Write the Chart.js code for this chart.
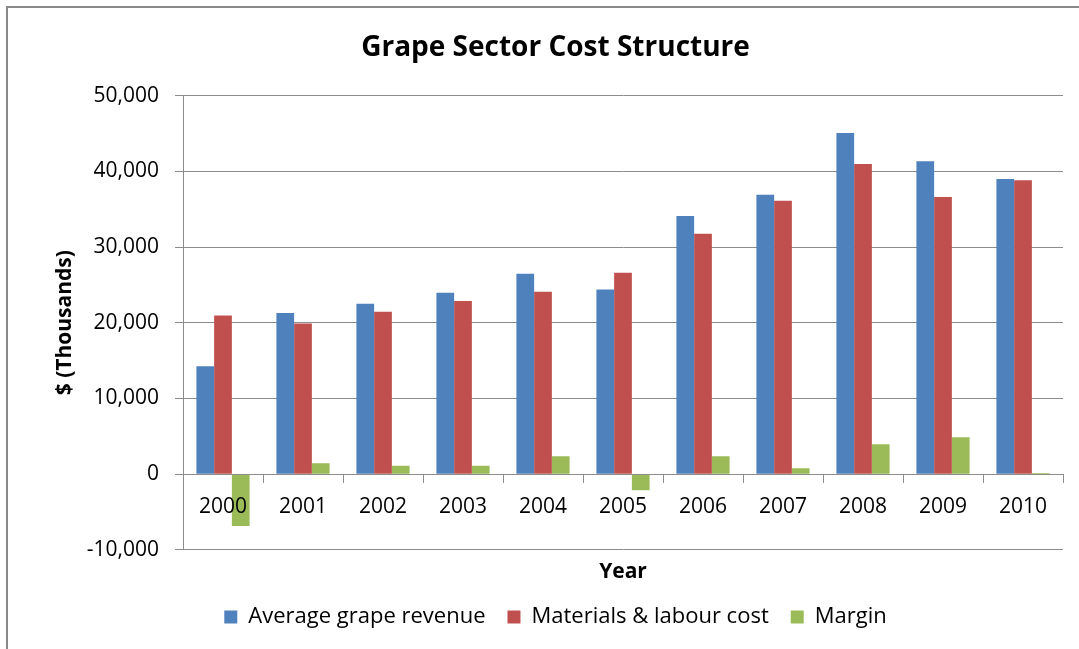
<!DOCTYPE html>
<html>
<head>
<meta charset="utf-8">
<script src="https://cdn.jsdelivr.net/npm/chart.js@4"></script>
<style>
    html, body { margin: 0; padding: 0; background: #fff; }
    #frame {
        position: absolute;
        left: 6px;
        top: 6px;
        width: 1071px;
        height: 641px;
        border-top: 2px solid #8a8a8a;
        border-left: 2px solid #8a8a8a;
    }
</style>
</head>
<body>
<div id="frame"><canvas id="costChart"></canvas></div>
<script>
const years = ['2000', '2001', '2002', '2003', '2004', '2005', '2006', '2007', '2008', '2009', '2010'];
const revenue = [14270, 21280, 22510, 23960, 26480, 24400, 34100, 36920, 45070, 41320, 38990];
const labourCost = [20970, 19910, 21450, 22860, 24100, 26600, 31760, 36120, 40970, 36610, 38810];
const margin = [-6830, 1450, 1100, 1100, 2380, -2110, 2380, 790, 3960, 4890, 150];
const yTicks = { min: -10000, max: 50000, step: 10000 };

const gridGrey = '#8c8c8c';
Chart.defaults.font.family = "'Open Sans', sans-serif";
Chart.defaults.color = '#000';

let costChart = new Chart(document.getElementById('costChart'), {
    type: 'bar',
    data: {
        labels: years,
        datasets: [{
            label: 'Average grape revenue',
            data: revenue,
            backgroundColor: '#4F81BD',
            xAxisID: 'x',
            yAxisID: 'y',
        }, {
            label: 'Materials & labour cost',
            data: labourCost,
            backgroundColor: '#C0504D',
            xAxisID: 'x',
            yAxisID: 'y',
        }, {
            label: 'Margin',
            data: margin,
            backgroundColor: '#9BBB59',
            xAxisID: 'x',
            yAxisID: 'y',
        }],
    },
    options: {
        responsive: true,
        maintainAspectRatio: false,
        animation: false,
        locale: 'en-US',
        layout: {
            padding: { left: 40, right: 16, top: 0, bottom: 11 }
        },
        datasets: {
            bar: {
                categoryPercentage: 0.665,
                barPercentage: 1.0,
                borderWidth: 0,
            }
        },
        plugins: {
            title: {
                display: true,
                text: 'Grape Sector Cost Structure',
                color: '#000',
                font: { size: 28, weight: 'bold' },
                padding: { top: 23, bottom: 31 },
            },
            legend: {
                position: 'bottom',
                labels: {
                    boxWidth: 13,
                    boxHeight: 13,
                    padding: 22,
                    color: '#000',
                    font: { size: 22 },
                }
            },
            tooltip: { enabled: false },
        },
        scales: {
            // category axis sits on the zero line, labels drawn over the bars
            x: {
                type: 'category',
                position: { y: 0 },
                afterFit: (scale) => { scale.height = 0; },
                grid: {
                    drawOnChartArea: false,
                    drawTicks: true,
                    tickLength: 8,
                    color: gridGrey,
                    offset: true,
                },
                border: { color: gridGrey, z: 1 },
                ticks: {
                    z: 1,
                    padding: 12,
                    color: '#000',
                    font: { size: 21 },
                    maxRotation: 0,
                },
            },
            // only carries the "Year" title under the plot
            x2: {
                type: 'category',
                position: 'bottom',
                grid: { display: false, drawTicks: false },
                border: { display: false },
                ticks: { display: false },
                title: {
                    display: true,
                    text: 'Year',
                    color: '#000',
                    font: { size: 21, weight: 'bold', lineHeight: 1.1 },
                    padding: { top: 11, bottom: 0 },
                },
            },
            y: {
                min: yTicks.min,
                max: yTicks.max,
                afterFit: (scale) => { scale.width = 135; },
                ticks: {
                    stepSize: yTicks.step,
                    padding: 16,
                    color: '#000',
                    font: { size: 21 },
                },
                grid: {
                    color: gridGrey,
                    tickLength: 8,
                },
                border: { color: gridGrey },
                title: {
                    display: true,
                    text: '$ (Thousands)',
                    color: '#000',
                    font: { size: 21, weight: 'bold' },
                    padding: { top: 4, bottom: 4 },
                },
            },
        },
    },
});
</script>
</body>
</html>
